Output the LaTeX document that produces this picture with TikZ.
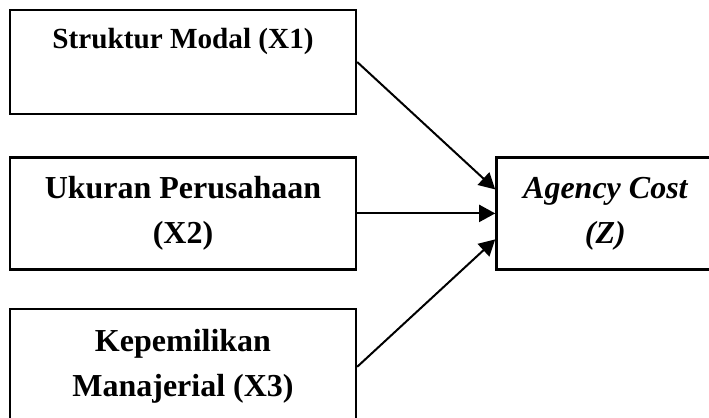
\documentclass[tikz,border=0pt]{standalone}
\usepackage{fontspec}
\setmainfont{Liberation Serif}
\usetikzlibrary{arrows.meta, positioning}

\begin{document}
\begin{tikzpicture}[
  node distance=20pt,
  box/.style={rectangle, draw=black, line width=1.2pt, minimum width=173pt,
              align=center, inner sep=2pt,
              font=\fontsize{16}{22.5}\selectfont\bfseries},
  arr/.style={-{Triangle[length=8pt, width=8.5pt]}, line width=1pt}
]
\path[use as bounding box, clip] (0,0) rectangle (354.5pt,-209pt);

\node[box, minimum height=52pt, font=\fontsize{14.6}{20.5}\selectfont\bfseries] (modal) at (91.5pt,-31pt) {Struktur Modal (X1)\\[3pt]\mbox{}};
\node[box, minimum height=56pt, below=20.5pt of modal] (ukuran) {Ukuran Perusahaan\\(X2)};
\node[box, minimum height=58pt, below=18.5pt of ukuran] (milik) {Kepemilikan\\Manajerial (X3)};
\node[box, minimum height=56pt, minimum width=109pt, right=69pt of ukuran,
      font=\fontsize{16}{22.5}\selectfont\bfseries\itshape] (agency) {Agency Cost\\(Z)};

% paths into the dependent variable
\draw[arr] (modal.east) -- ([yshift=12pt]agency.west);
\draw[arr] (ukuran) -- (agency);
\draw[arr] (milik.east) -- ([yshift=-13pt]agency.west);
\end{tikzpicture}
\end{document}
